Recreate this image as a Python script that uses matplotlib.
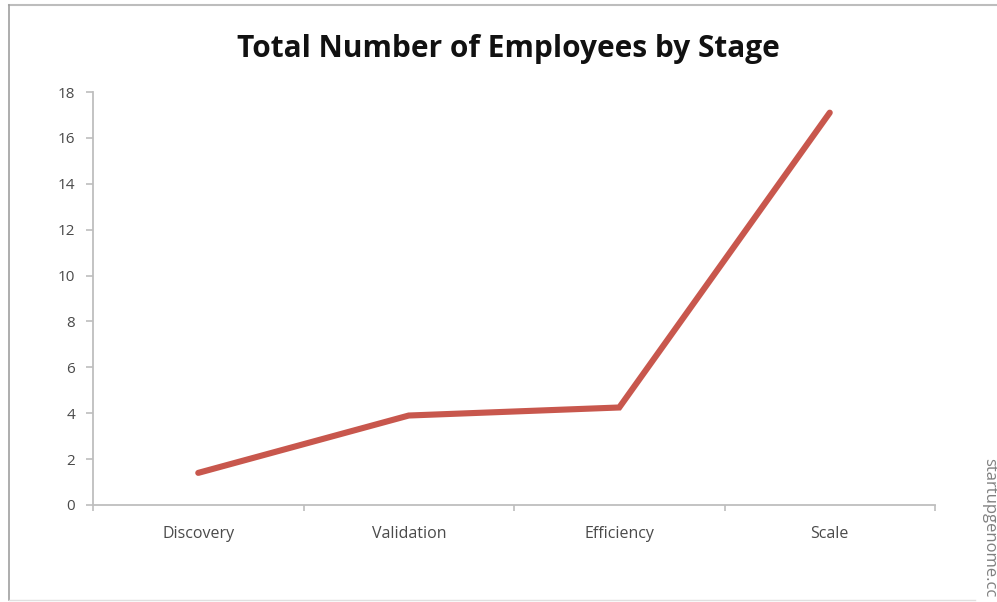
import matplotlib
matplotlib.use("Agg")
import matplotlib.pyplot as plt
from matplotlib.lines import Line2D

stages = ["Discovery", "Validation", "Efficiency", "Scale"]
employees = [1.4, 3.9, 4.25, 17.1]
yticks = [0, 2, 4, 6, 8, 10, 12, 14, 16, 18]

W, H = 997, 602
fig = plt.figure(figsize=(W / 100, H / 100), dpi=100)
fig.patch.set_facecolor("white")

# axes box in pixels
x0, x1 = 93, 935
y_top, y_bot = 92, 505
ax = fig.add_axes([x0 / W, 1 - y_bot / H, (x1 - x0) / W, (y_bot - y_top) / H])

xs = list(range(len(stages)))
ax.plot(xs, employees, color="#C8574D", linewidth=4.4, solid_capstyle="round",
        solid_joinstyle="miter")

ax.set_xlim(-0.5, len(stages) - 0.5)
ax.set_ylim(0, 18)
ax.set_yticks(yticks)
ax.set_yticklabels([str(v) for v in yticks])
ax.set_xticks(xs)
ax.set_xticklabels(stages)
ax.set_xticks([i - 0.5 for i in range(len(stages) + 1)], minor=True)

axis_col = "#BEBEBE"
for s in ["top", "right"]:
    ax.spines[s].set_visible(False)
for s in ["left", "bottom"]:
    ax.spines[s].set_color(axis_col)
    ax.spines[s].set_linewidth(1.3)

ax.tick_params(axis="y", direction="out", length=5, width=1.2, color=axis_col,
               labelcolor="#4A4A4A", labelsize=11, pad=8)
ax.tick_params(axis="x", which="major", length=0, labelcolor="#4A4A4A",
               labelsize=11.5, pad=15)
ax.tick_params(axis="x", which="minor", direction="out", length=4, width=1.2,
               color=axis_col)
for lab in ax.get_xticklabels() + ax.get_yticklabels():
    lab.set_fontfamily("Open Sans")

fig.text(508 / W, 1 - 49 / H, "Total Number of Employees by Stage",
         ha="center", va="center", fontsize=21.5, fontweight="bold",
         family="Open Sans", color="#111111")

fig.text(989 / W, 1 - 528 / H, "startupgenome.cc", rotation=-90,
         ha="center", va="center", fontsize=12, family="Open Sans",
         color="#808080")

# frame lines of the original chart box
fig.add_artist(Line2D([9 / W, 1], [1 - 5 / H, 1 - 5 / H], color="#BDBDBD",
                      linewidth=1.5, transform=fig.transFigure))
fig.add_artist(Line2D([9 / W, 9 / W], [1 - 5 / H, 1 - 600 / H], color="#A0A0A0",
                      linewidth=1.2, transform=fig.transFigure))
fig.add_artist(Line2D([9 / W, 975 / W], [1 - 600 / H, 1 - 600 / H], color="#E0E0E0",
                      linewidth=1.0, transform=fig.transFigure))

fig.savefig("out.png", dpi=100)
